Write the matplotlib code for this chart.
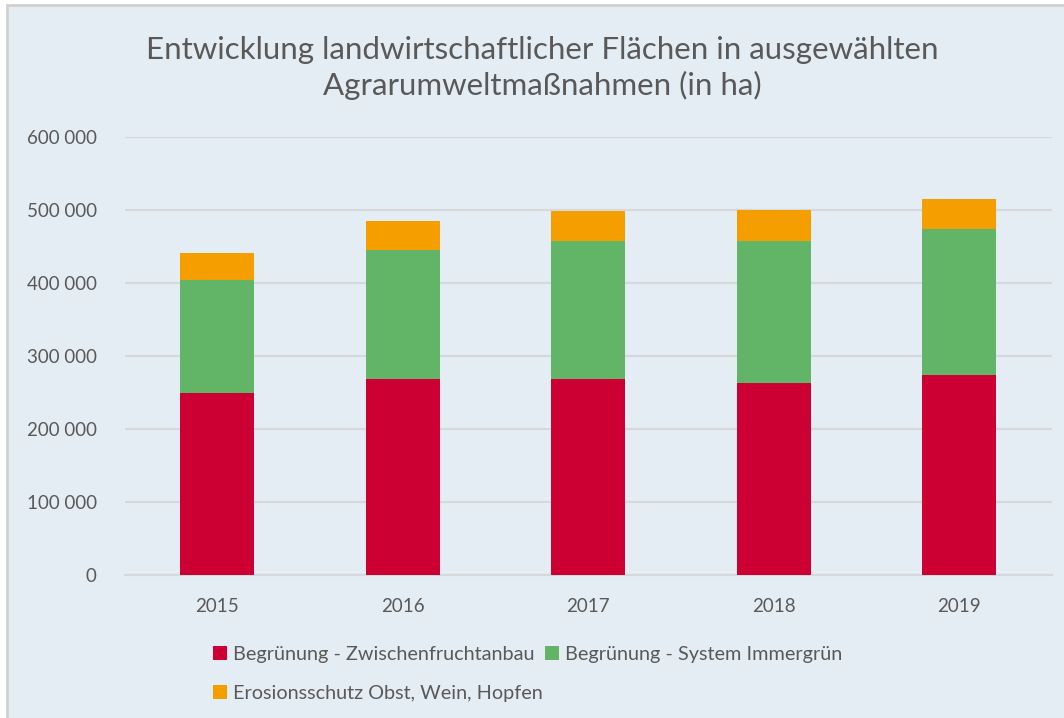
import matplotlib.pyplot as plt
from matplotlib.patches import Rectangle
from matplotlib.ticker import FuncFormatter
import numpy as np

years = ['2015', '2016', '2017', '2018', '2019']
zwischenfrucht = [250000, 269000, 269000, 264000, 274000]
immergruen = [154500, 176600, 189000, 194000, 200000]
erosionsschutz = [36500, 39400, 41500, 43000, 41500]
labels = ['Begrünung - Zwischenfruchtanbau', 'Begrünung - System Immergrün',
          'Erosionsschutz Obst, Wein, Hopfen']
colors = ['#CC0033', '#62B566', '#F59E00']

plt.rcParams['font.family'] = ['Lato', 'DejaVu Sans']
bg = '#E5EDF4'
text_col = '#595959'

fig = plt.figure(figsize=(10.64, 7.18), dpi=100)
fig.patch.set_facecolor('white')
# chart area frame (cropped at right / bottom)
fig.patches.append(Rectangle((7 / 1064, -0.01), 1.1, (718 - 5) / 718 + 0.01,
                             transform=fig.transFigure, facecolor=bg,
                             edgecolor='#D0D0D0', linewidth=2, zorder=-10))

ax = fig.add_axes([124.5 / 1064, 0.1987, (1052 - 124.5) / 1064, 0.8088 - 0.1987])
ax.set_facecolor('none')

x = np.arange(len(years))
w = 0.4
b1 = ax.bar(x, zwischenfrucht, w, color=colors[0], label=labels[0], zorder=3)
b2 = ax.bar(x, immergruen, w, bottom=zwischenfrucht, color=colors[1], label=labels[1], zorder=3)
bottom3 = np.array(zwischenfrucht) + np.array(immergruen)
b3 = ax.bar(x, erosionsschutz, w, bottom=bottom3, color=colors[2], label=labels[2], zorder=3)

ax.set_xlim(-0.5, len(years) - 0.5)
ax.set_ylim(0, 600000)
ax.set_yticks(np.arange(0, 600001, 100000))
ax.yaxis.set_major_formatter(FuncFormatter(lambda v, p: f'{int(v):,}'.replace(',', ' ')))
ax.set_xticks(x)
ax.set_xticklabels(years)
ax.grid(axis='y', color='#D6D9DC', linewidth=1.6, zorder=0)
for s in ['top', 'right', 'left']:
    ax.spines[s].set_visible(False)
ax.spines['bottom'].set_color('#D6D9DC')
ax.spines['bottom'].set_linewidth(1.6)
ax.tick_params(axis='both', length=0, labelsize=13.5, labelcolor=text_col)
ax.tick_params(axis='x', pad=16)
ax.tick_params(axis='y', pad=20)

fig.text(542 / 1064, 1 - 68 / 718,
         'Entwicklung landwirtschaftlicher Flächen in ausgewählten\nAgrarumweltmaßnahmen (in ha)',
         ha='center', va='center', fontsize=22.5, color=text_col, linespacing=1.3)

leg = fig.legend([b1, b3, b2], [labels[0], labels[2], labels[1]], ncol=2,
                 loc='upper left', bbox_to_anchor=(195 / 1064, 1 - 628 / 718),
                 frameon=False, fontsize=14.3, labelcolor=text_col,
                 handlelength=0.7, handleheight=0.7, handletextpad=0.3,
                 columnspacing=0.15, labelspacing=1.1)

fig.savefig('out.png', dpi=100, facecolor=fig.get_facecolor())
